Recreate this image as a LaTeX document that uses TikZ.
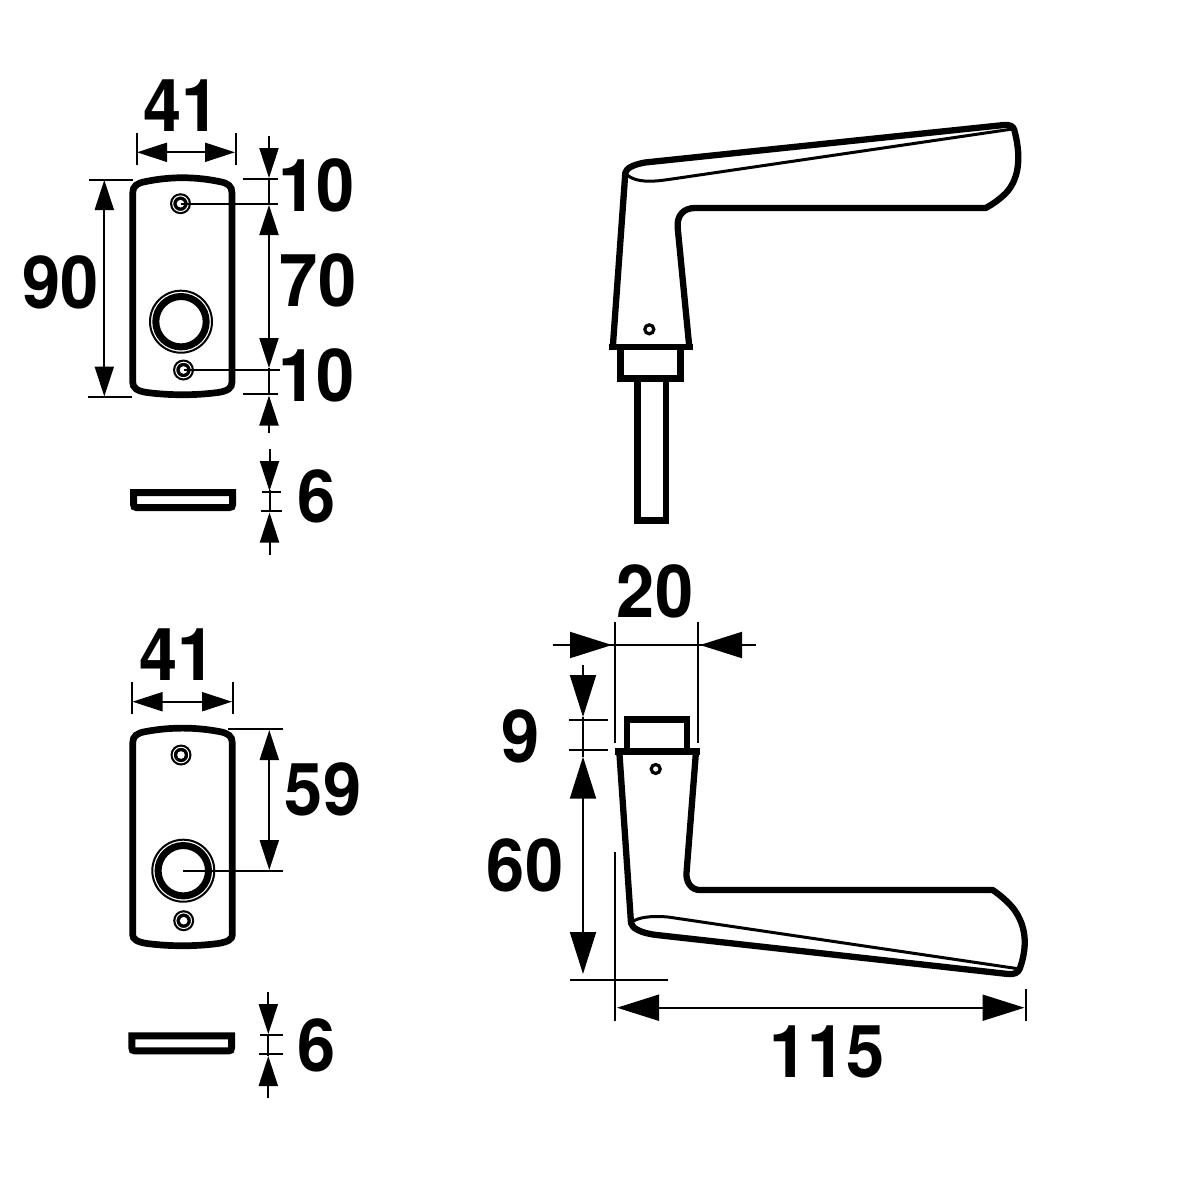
\documentclass[tikz,border=0pt]{standalone}
\usepackage{fontspec}
\setmainfont[FakeStretch=0.94]{TeX Gyre Heros}
\usetikzlibrary{arrows.meta}
\tikzset{
  dimtext/.style={inner sep=0pt,outer sep=0pt,font=\fontsize{73}{73}\selectfont\bfseries},
  thinl/.style={line width=2pt,line cap=butt},
  outline/.style={line width=6.7pt,line join=miter,line cap=butt},
  sm/.style={thinl,-{Triangle[length=30pt,width=19pt,sep=0pt]}},
  smb/.style={thinl,{Triangle[length=30pt,width=19pt]}-{Triangle[length=30pt,width=19pt]}},
  lg/.style={thinl,-{Triangle[length=42pt,width=26pt]}},
  lgb/.style={thinl,{Triangle[length=42pt,width=26pt]}-{Triangle[length=42pt,width=26pt]}},
}
\newcommand{\smallscrew}[2]{%
  \fill[black] (#1,#2) circle[radius=10.5pt];
  \draw[white,line width=1pt] (#1,#2) circle[radius=7.8pt];
  \fill[white] (#1,#2) circle[radius=3.8pt];
}
\newcommand{\bigring}[2]{%
  \draw[line width=2pt] (#1,#2) circle[radius=31pt];
  \draw[line width=7pt] (#1,#2) circle[radius=25.2pt];
}
\newcommand{\pinhole}[2]{\draw[line width=3.2pt] (#1,#2) circle[radius=4.5pt];}
\begin{document}
\begin{tikzpicture}[x=1pt,y=-1pt]
\useasboundingbox (0,0) rectangle (1181,1181);
\fill[white] (0,0) rectangle (1181,1181);

%% ---- top plate
\draw[outline] (132.7,193) .. controls (132.7,186) and (137,183) .. (146,181.5)
  .. controls (170,176.5) and (195,176.5) .. (219,181.5)
  .. controls (228,183) and (232,186) .. (232,193)
  -- (232,382) .. controls (232,388) and (228,391) .. (218,392.5)
  .. controls (195,395.5) and (170,395.5) .. (147,392.5)
  .. controls (137,391) and (132.7,388) .. (132.7,382) -- cycle;
\smallscrew{180.5}{203.7}
\smallscrew{183.5}{370}
\bigring{181}{321.7}
% 41
\draw[thinl] (136.5,133) -- (136.5,165);
\draw[thinl] (235.5,133) -- (235.5,165);
\draw[smb] (137,152.3) -- (235,152.3);
\node[dimtext] (t41a) at (181.5,106) {41};
% 90
\draw[thinl] (89,179.5) -- (132.7,179.5);
\draw[thinl] (88,397) -- (132,397);
\draw[smb] (104.3,180) -- (104.3,396.5);
\node[dimtext] (t90) at (60.7,282) {90};
% right chain
\draw[thinl] (243,179) -- (278,179);
\draw[thinl] (180.5,203.7) -- (278,203.7);
\draw[thinl] (183.5,370) -- (280,370);
\draw[thinl] (243,394) -- (278,394);
\draw[sm] (269,136) -- (269,178);
\draw[smb] (269,205) -- (269,368);
\draw[thinl] (269,178) -- (269,205);
\draw[sm] (269,433) -- (269,395.5);
\draw[thinl] (269,368) -- (269,395);
\node[dimtext] (t10a) at (316.5,185) {10};
\node[dimtext] (t70) at (318,280) {70};
\node[dimtext] (t10b) at (316.5,375) {10};
% slot + 6
\draw[outline,line width=7pt] (133.5,492.5) -- (232.7,492.5) -- (232.7,504)
  .. controls (232.7,506.5) and (231.5,507.5) .. (229.5,507.5) -- (136.5,507.5)
  .. controls (134.5,507.5) and (133.5,506.5) .. (133.5,504) -- cycle;
\draw[thinl] (262,492) -- (281,492);
\draw[thinl] (261,511) -- (282,511);
\draw[thinl] (269.5,490) -- (269.5,512);
\draw[sm] (269.5,449) -- (269.5,491);
\draw[sm] (269.5,555) -- (269.5,512.5);
\node[dimtext] (t6a) at (317,496) {6};

%% ---- bottom plate
\draw[outline] (132.7,743) .. controls (132.7,736) and (137,733) .. (146,731.5)
  .. controls (170,727) and (195,727) .. (219,731.5)
  .. controls (228,733) and (232.3,736) .. (232.3,743)
  -- (232.3,935) .. controls (232.3,939) and (228,942) .. (218,943.5)
  .. controls (195,946.5) and (170,946.5) .. (147,943.5)
  .. controls (137,942) and (132.7,939) .. (132.7,935) -- cycle;
\smallscrew{181}{755}
\smallscrew{183.7}{920.7}
\bigring{183.3}{870.7}
% 41
\draw[thinl] (132,682) -- (132,714);
\draw[thinl] (232.7,682) -- (232.7,714);
\draw[smb] (132.5,701.7) -- (232,701.7);
\node[dimtext] (t41b) at (177.5,655) {41};
% 59
\draw[thinl] (228,729) -- (282.7,729);
\draw[thinl] (183.3,870.7) -- (282.7,870.7);
\draw[smb] (269.3,730) -- (269.3,870);
\node[dimtext] (t59) at (323,789) {59};
% slot + 6
\draw[outline,line width=7pt] (131.8,1035.8) -- (231.6,1035.8) -- (231.6,1047.5)
  .. controls (231.6,1050) and (230.5,1050.9) .. (228.5,1050.9) -- (134.8,1050.9)
  .. controls (132.8,1050.9) and (131.8,1050) .. (131.8,1047.5) -- cycle;
\draw[thinl] (260,1035.3) -- (283,1035.3);
\draw[thinl] (259,1054.3) -- (283,1054.3);
\draw[thinl] (268.3,1034) -- (268.3,1056);
\draw[sm] (268.3,992) -- (268.3,1034);
\draw[sm] (268.3,1098) -- (268.3,1056);
\node[dimtext] (t6b) at (316.7,1045) {6};

%% ---- upper handle
\draw[outline] (637.3,382) -- (637.3,520.7) -- (666,520.7) -- (666,382);
\draw[outline] (620.5,350) -- (620.5,378.5) -- (680.5,378.5) -- (680.5,350);
\draw[outline] (609,347) -- (693,347);
\draw[outline,line width=6.3pt,line join=round] (612.8,347) -- (625.3,173)
  .. controls (626,168) and (634,164.5) .. (645,162.5)
  -- (1004,125) .. controls (1010,124.6) and (1013,126) .. (1014.3,130)
  .. controls (1021,155) and (1020,178) .. (1006,193)
  .. controls (1000,199) and (993,204) .. (985.7,208)
  -- (695,208) .. controls (684,208) and (676.5,215) .. (677.7,228)
  -- (689.3,347);
\draw[line width=3pt] (625.5,173) .. controls (630,179) and (640,182) .. (655,181)
  .. controls (660,180.8) and (666,179.8) .. (672,179) -- (1016,128.5);
\pinhole{649.3}{329.3}

%% ---- lower handle
\draw[outline] (627,751) -- (627,719.5) -- (687,719.5) -- (687,751);
\draw[outline] (615.3,751.5) -- (700,751.5);
\draw[outline,line width=6.3pt,line join=round] (619.3,751.5) -- (631,923)
  .. controls (632,928) and (640,933) .. (656.7,935)
  -- (1008,974) .. controls (1014,974.5) and (1018.5,973) .. (1020,968)
  .. controls (1028,945) and (1026,925) .. (1013,908)
  .. controls (1007,901) and (1000,895) .. (992.7,890)
  -- (700,890) .. controls (691,890) and (686,882) .. (686.5,873)
  -- (696,751.5);
\draw[line width=3pt] (632,922) .. controls (638,917.5) and (650,915.5) .. (668,917)
  -- (1020,969);
\pinhole{655.7}{769}

%% ---- lower handle dimensions
\draw[thinl] (614.7,622) -- (614.7,743);
\draw[thinl] (698.3,622) -- (698.3,743);
\draw[thinl] (552.7,645) -- (755.7,645);
\draw[lg] (552.7,645) -- (612,645);
\draw[lg] (755.7,645) -- (700,645);
\node[dimtext] (t20) at (655,591.7) {20};
\draw[thinl] (569,720) -- (608,720);
\draw[thinl] (569,749.7) -- (608,749.7);
\draw[thinl] (583,717) -- (583,757);
\draw[lg] (583,665) -- (583,717);
\draw[lgb] (583,756.7) -- (583,974);
\node[dimtext] (t9) at (520.7,736.7) {9};
\node[dimtext] (t60) at (525,865) {60};
\draw[thinl] (570,980) -- (667.7,980);
\draw[thinl] (615.3,852) -- (615.3,1020.7);
\draw[thinl] (1025.7,989) -- (1025.7,1021);
\draw[lgb] (617,1007.7) -- (1024.5,1007.7);
\node[dimtext] (t115) at (827,1052) {115};
\end{tikzpicture}
\end{document}
